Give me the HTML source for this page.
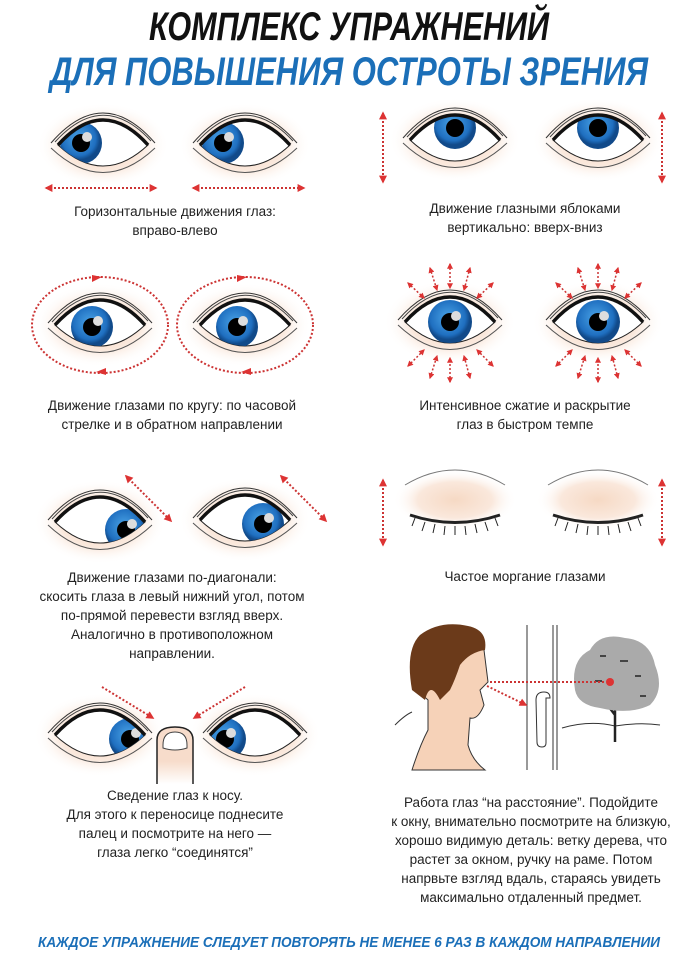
<!DOCTYPE html>
<html><head><meta charset="utf-8"><style>
html,body{margin:0;padding:0;background:#fff;}
svg{display:block;}
text{font-family:"Liberation Sans","Noto Sans CJK SC",sans-serif;}
.t{font-size:13.5px;fill:#222;text-anchor:middle;}
</style></head><body>
<svg width="698" height="955" viewBox="0 0 698 955" xmlns="http://www.w3.org/2000/svg">
<defs>
<radialGradient id="skin"><stop offset="0" stop-color="#f6d9c4"/><stop offset="0.6" stop-color="#fae8dc"/><stop offset="1" stop-color="#fff" stop-opacity="0"/></radialGradient>
<radialGradient id="iris" cx="0.45" cy="0.4"><stop offset="0" stop-color="#4aa3e6"/><stop offset="0.8" stop-color="#1f6fc0"/><stop offset="1" stop-color="#114a8a"/></radialGradient>
<linearGradient id="fing" x1="0" y1="0" x2="0" y2="1"><stop offset="0.6" stop-color="#f7dccb"/><stop offset="1" stop-color="#fff"/></linearGradient>
<clipPath id="ec"><path d="M-45,0 Q0,-50 45,0 Q0,42 -45,0Z"/></clipPath>
<marker id="ah" viewBox="0 0 10 10" refX="8" refY="5" markerWidth="4" markerHeight="4" orient="auto-start-reverse"><path d="M0,0 L10,5 L0,10Z" fill="#d33"/></marker>
<g id="lid">
<ellipse rx="66" ry="42" fill="url(#skin)"/>
<path d="M-52,-2 Q0,-62 52,-2" fill="none" stroke="#333" stroke-width="1"/>
<path d="M-48,-3 Q0,-56 48,-4" fill="none" stroke="#444" stroke-width="1"/>
<path d="M-52,3 Q0,52 52,3" fill="none" stroke="#555" stroke-width="1"/>
</g>
</defs>

<text x="349" y="40" font-size="40" font-weight="bold" font-style="italic" textLength="400" lengthAdjust="spacingAndGlyphs" text-anchor="middle" fill="#111">КОМПЛЕКС УПРАЖНЕНИЙ</text>
<text x="349" y="85" font-size="40" font-weight="bold" font-style="italic" textLength="598" lengthAdjust="spacingAndGlyphs" text-anchor="middle" fill="#1b6fb8">ДЛЯ ПОВЫШЕНИЯ ОСТРОТЫ ЗРЕНИЯ</text>

<g transform="translate(103,145)"><use href="#lid"/><path d="M-45,0 Q0,-50 45,0 Q0,42 -45,0Z" fill="#fff" stroke="#222"/><g clip-path="url(#ec)"><circle cx="-22" cy="-2" r="21" fill="url(#iris)"/><circle cx="-22" cy="-2" r="9" fill="#000"/><circle cx="-16" cy="-8" r="5" fill="#ddd"/></g><path d="M-45,0 Q0,-50 45,0" fill="none" stroke="#111" stroke-width="3.5"/></g>
<g transform="translate(245,145)"><use href="#lid"/><path d="M-45,0 Q0,-50 45,0 Q0,42 -45,0Z" fill="#fff" stroke="#222"/><g clip-path="url(#ec)"><circle cx="-22" cy="-2" r="21" fill="url(#iris)"/><circle cx="-22" cy="-2" r="9" fill="#000"/><circle cx="-16" cy="-8" r="5" fill="#ddd"/></g><path d="M-45,0 Q0,-50 45,0" fill="none" stroke="#111" stroke-width="3.5"/></g>
<g stroke="#c33" stroke-width="2" stroke-dasharray="2,2" marker-start="url(#ah)" marker-end="url(#ah)">
<line x1="46" y1="188" x2="156" y2="188"/><line x1="193" y1="188" x2="304" y2="188"/>
</g>
<text class="t" x="175" y="216">Горизонтальные движения глаз:</text>
<text class="t" x="175" y="235">вправо-влево</text>

<g transform="translate(455,140)"><use href="#lid"/><path d="M-45,0 Q0,-50 45,0 Q0,42 -45,0Z" fill="#fff" stroke="#222"/><g clip-path="url(#ec)"><circle cx="0" cy="-12" r="21" fill="url(#iris)"/><circle cx="0" cy="-12" r="9" fill="#000"/></g><path d="M-45,0 Q0,-50 45,0" fill="none" stroke="#111" stroke-width="3.5"/></g>
<g transform="translate(598,140)"><use href="#lid"/><path d="M-45,0 Q0,-50 45,0 Q0,42 -45,0Z" fill="#fff" stroke="#222"/><g clip-path="url(#ec)"><circle cx="0" cy="-12" r="21" fill="url(#iris)"/><circle cx="0" cy="-12" r="9" fill="#000"/></g><path d="M-45,0 Q0,-50 45,0" fill="none" stroke="#111" stroke-width="3.5"/></g>
<g stroke="#c33" stroke-width="2" stroke-dasharray="2,2" marker-start="url(#ah)" marker-end="url(#ah)">
<line x1="383" y1="113" x2="383" y2="182"/><line x1="662" y1="113" x2="662" y2="182"/>
</g>
<text class="t" x="525" y="213">Движение глазными яблоками</text>
<text class="t" x="525" y="232">вертикально: вверх-вниз</text>

<g transform="translate(100,325)"><use href="#lid"/><path d="M-45,0 Q0,-50 45,0 Q0,42 -45,0Z" fill="#fff" stroke="#222"/><g clip-path="url(#ec)"><circle cx="-8" cy="2" r="21" fill="url(#iris)"/><circle cx="-8" cy="2" r="9" fill="#000"/><circle cx="-2" cy="-4" r="5" fill="#ddd"/></g><path d="M-45,0 Q0,-50 45,0" fill="none" stroke="#111" stroke-width="3.5"/></g>
<g transform="translate(245,325)"><use href="#lid"/><path d="M-45,0 Q0,-50 45,0 Q0,42 -45,0Z" fill="#fff" stroke="#222"/><g clip-path="url(#ec)"><circle cx="-8" cy="2" r="21" fill="url(#iris)"/><circle cx="-8" cy="2" r="9" fill="#000"/><circle cx="-2" cy="-4" r="5" fill="#ddd"/></g><path d="M-45,0 Q0,-50 45,0" fill="none" stroke="#111" stroke-width="3.5"/></g>
<g fill="none" stroke="#c33" stroke-width="2" stroke-dasharray="2,2">
<ellipse cx="100" cy="325" rx="68" ry="48"/><ellipse cx="245" cy="325" rx="68" ry="48"/>
</g>
<g fill="#d33"><path d="M92,275 l10,2 -10,5z"/><path d="M106,375 l-10,-3 10,-4z"/><path d="M237,275 l10,2 -10,5z"/><path d="M251,375 l-10,-3 10,-4z"/></g>
<text class="t" x="172" y="410">Движение глазами по кругу: по часовой</text>
<text class="t" x="172" y="429">стрелке и в обратном направлении</text>

<g transform="translate(450,322)"><use href="#lid"/><path d="M-45,0 Q0,-50 45,0 Q0,42 -45,0Z" fill="#fff" stroke="#222"/><g clip-path="url(#ec)"><circle cx="0" cy="0" r="22" fill="url(#iris)"/><circle cx="0" cy="0" r="9" fill="#000"/><circle cx="6" cy="-6" r="5" fill="#ddd"/></g><path d="M-45,0 Q0,-50 45,0" fill="none" stroke="#111" stroke-width="3.5"/></g>
<g transform="translate(598,322)"><use href="#lid"/><path d="M-45,0 Q0,-50 45,0 Q0,42 -45,0Z" fill="#fff" stroke="#222"/><g clip-path="url(#ec)"><circle cx="0" cy="0" r="22" fill="url(#iris)"/><circle cx="0" cy="0" r="9" fill="#000"/><circle cx="6" cy="-6" r="5" fill="#ddd"/></g><path d="M-45,0 Q0,-50 45,0" fill="none" stroke="#111" stroke-width="3.5"/></g>
<g stroke="#c33" stroke-width="1.5" stroke-dasharray="2,2" marker-start="url(#ah)" marker-end="url(#ah)">
<line x1="408" y1="283" x2="424" y2="298"/><line x1="430" y1="268" x2="437" y2="290"/><line x1="450" y1="264" x2="450" y2="288"/><line x1="470" y1="268" x2="464" y2="290"/><line x1="493" y1="283" x2="477" y2="298"/>
<line x1="408" y1="366" x2="424" y2="350"/><line x1="430" y1="378" x2="437" y2="356"/><line x1="450" y1="382" x2="450" y2="358"/><line x1="470" y1="378" x2="464" y2="356"/><line x1="493" y1="366" x2="477" y2="350"/>
<line x1="556" y1="283" x2="572" y2="298"/><line x1="578" y1="268" x2="585" y2="290"/><line x1="598" y1="264" x2="598" y2="288"/><line x1="618" y1="268" x2="612" y2="290"/><line x1="641" y1="283" x2="625" y2="298"/>
<line x1="556" y1="366" x2="572" y2="350"/><line x1="578" y1="378" x2="585" y2="356"/><line x1="598" y1="382" x2="598" y2="358"/><line x1="618" y1="378" x2="612" y2="356"/><line x1="641" y1="366" x2="625" y2="350"/>
</g>
<text class="t" x="525" y="410">Интенсивное сжатие и раскрытие</text>
<text class="t" x="525" y="429">глаз в быстром темпе</text>

<g transform="translate(100,522)"><use href="#lid"/><path d="M-45,0 Q0,-50 45,0 Q0,42 -45,0Z" fill="#fff" stroke="#222"/><g clip-path="url(#ec)"><circle cx="26" cy="8" r="21" fill="url(#iris)"/><circle cx="26" cy="8" r="9" fill="#000"/><circle cx="32" cy="2" r="5" fill="#ddd"/></g><path d="M-45,0 Q0,-50 45,0" fill="none" stroke="#111" stroke-width="3.5"/></g>
<g transform="translate(245,520)"><use href="#lid"/><path d="M-45,0 Q0,-50 45,0 Q0,42 -45,0Z" fill="#fff" stroke="#222"/><g clip-path="url(#ec)"><circle cx="18" cy="4" r="21" fill="url(#iris)"/><circle cx="18" cy="4" r="9" fill="#000"/><circle cx="24" cy="-2" r="5" fill="#ddd"/></g><path d="M-45,0 Q0,-50 45,0" fill="none" stroke="#111" stroke-width="3.5"/></g>
<g stroke="#c33" stroke-width="2" stroke-dasharray="2,2" marker-start="url(#ah)" marker-end="url(#ah)">
<line x1="126" y1="476" x2="171" y2="521"/><line x1="281" y1="476" x2="326" y2="521"/>
</g>
<text class="t" x="172" y="582">Движение глазами по-диагонали:</text>
<text class="t" x="172" y="601">скосить глаза в левый нижний угол, потом</text>
<text class="t" x="172" y="620">по-прямой перевести взгляд вверх.</text>
<text class="t" x="172" y="639">Аналогично в противоположном</text>
<text class="t" x="172" y="658">направлении.</text>

<g fill="none" stroke="#222">
<ellipse cx="455" cy="500" rx="62" ry="30" fill="url(#skin)" stroke="none"/>
<ellipse cx="598" cy="500" rx="62" ry="30" fill="url(#skin)" stroke="none"/>
<path d="M405,485 Q455,455 505,485" stroke="#777"/>
<path d="M548,485 Q598,455 648,485" stroke="#777"/>
<path d="M410,515 Q455,530 500,515" stroke-width="3"/>
<path d="M553,515 Q598,530 643,515" stroke-width="3"/>
<path d="M415,518 l-3,8 M425,522 l-3,9 M435,524 l-2,9 M445,526 l-1,9 M455,526 l0,9 M465,526 l1,9 M475,524 l2,9 M485,522 l3,9 M495,518 l3,8" stroke-width="1"/>
<path d="M558,518 l-3,8 M568,522 l-3,9 M578,524 l-2,9 M588,526 l-1,9 M598,526 l0,9 M608,526 l1,9 M618,524 l2,9 M628,522 l3,9 M638,518 l3,8" stroke-width="1"/>
</g>
<g stroke="#c33" stroke-width="2" stroke-dasharray="2,2" marker-start="url(#ah)" marker-end="url(#ah)">
<line x1="383" y1="480" x2="383" y2="545"/><line x1="662" y1="480" x2="662" y2="545"/>
</g>
<text class="t" x="525" y="581">Частое моргание глазами</text>

<g transform="translate(100,735)"><use href="#lid"/><path d="M-45,0 Q0,-50 45,0 Q0,42 -45,0Z" fill="#fff" stroke="#222"/><g clip-path="url(#ec)"><circle cx="30" cy="4" r="21" fill="url(#iris)"/><circle cx="30" cy="4" r="9" fill="#000"/><circle cx="36" cy="-2" r="5" fill="#ddd"/></g><path d="M-45,0 Q0,-50 45,0" fill="none" stroke="#111" stroke-width="3.5"/></g>
<g transform="translate(255,735)"><use href="#lid"/><path d="M-45,0 Q0,-50 45,0 Q0,42 -45,0Z" fill="#fff" stroke="#222"/><g clip-path="url(#ec)"><circle cx="-30" cy="4" r="21" fill="url(#iris)"/><circle cx="-30" cy="4" r="9" fill="#000"/><circle cx="-24" cy="-2" r="5" fill="#ddd"/></g><path d="M-45,0 Q0,-50 45,0" fill="none" stroke="#111" stroke-width="3.5"/></g>
<path d="M157,784 L157,740 Q157,727 175,727 Q193,727 193,740 L193,784" fill="url(#fing)" stroke="#222" stroke-width="1.5"/>
<path d="M163,745 Q163,732 175,732 Q187,732 187,745 L187,748 Q175,752 163,748Z" fill="#fff" stroke="#444"/>
<g stroke="#c33" stroke-width="2" stroke-dasharray="2,2" marker-end="url(#ah)">
<line x1="102" y1="687" x2="153" y2="718"/><line x1="245" y1="687" x2="194" y2="718"/>
</g>
<text class="t" x="175" y="800">Сведение глаз к носу.</text>
<text class="t" x="175" y="819">Для этого к переносице поднесите</text>
<text class="t" x="175" y="838">палец и посмотрите на него —</text>
<text class="t" x="175" y="857">глаза легко “соединятся”</text>

<path d="M412,770 Q420,745 428,730 L428,700 Q415,690 415,665 Q425,630 460,626 Q482,630 484,650 L488,682 L480,690 L484,705 Q478,720 470,718 L468,745 Q472,760 485,770Z" fill="#f6d2b8" stroke="#333"/>
<path d="M412,690 Q405,650 420,635 Q440,620 468,626 Q488,630 485,650 Q470,652 460,665 Q455,680 450,690 L440,700 Q430,680 425,700Z" fill="#6b3a1a"/>
<path d="M395,725 Q405,715 412,712" fill="none" stroke="#333"/>
<g stroke="#333" fill="none"><line x1="527" y1="625" x2="527" y2="770"/><line x1="553" y1="625" x2="553" y2="770"/><line x1="557" y1="625" x2="557" y2="770"/></g>
<path d="M536,700 q0,-8 8,-8 q6,0 6,6 l-4,0 l0,45 q0,4 -4,4 q-5,0 -5,-5z" fill="#fff" stroke="#333"/>
<path d="M562,728 Q590,720 615,726 Q640,722 660,725" fill="none" stroke="#333"/>
<path d="M615,742 L615,700 M615,715 L600,695 M615,710 L632,690" stroke="#222" stroke-width="2.5" fill="none"/>
<path d="M575,690 Q570,660 590,650 Q600,632 625,638 Q650,640 655,665 Q665,690 650,705 Q630,715 600,708 Q578,705 575,690Z" fill="#aaa"/>
<g fill="#444"><rect x="600" y="655" width="6" height="2"/><rect x="620" y="660" width="8" height="2"/><rect x="635" y="675" width="6" height="2"/><rect x="595" y="680" width="7" height="2"/><rect x="640" y="695" width="6" height="2"/></g>
<g stroke="#c33" stroke-width="2" stroke-dasharray="2,2"><line x1="490" y1="682" x2="605" y2="682" /><line x1="487" y1="686" x2="526" y2="705" marker-end="url(#ah)"/></g>
<circle cx="610" cy="682" r="4" fill="#d33"/>
<text class="t" x="531" y="807">Работа глаз “на расстояние”. Подойдите</text>
<text class="t" x="531" y="826">к окну, внимательно посмотрите на близкую,</text>
<text class="t" x="531" y="845">хорошо видимую деталь: ветку дерева, что</text>
<text class="t" x="531" y="864">растет за окном, ручку на раме. Потом</text>
<text class="t" x="531" y="883">напрвьте взгляд вдаль, стараясь увидеть</text>
<text class="t" x="531" y="902">максимально отдаленный предмет.</text>

<text x="349" y="947" font-size="15" font-weight="bold" font-style="italic" textLength="622" lengthAdjust="spacingAndGlyphs" text-anchor="middle" fill="#1b6fb8">КАЖДОЕ УПРАЖНЕНИЕ СЛЕДУЕТ ПОВТОРЯТЬ НЕ МЕНЕЕ 6 РАЗ В КАЖДОМ НАПРАВЛЕНИИ</text>
</svg>
</body></html>
